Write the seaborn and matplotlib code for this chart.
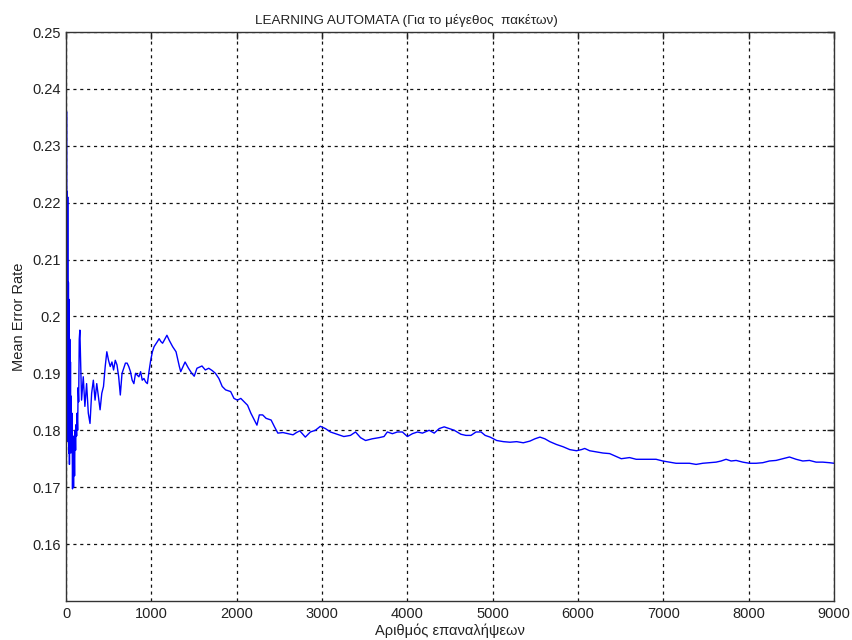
import matplotlib
matplotlib.use("Agg")
import matplotlib.pyplot as plt
import seaborn as sns
import pandas as pd

# Iteration index and running mean error rate of the learning automaton
iterations = [
    0, 2, 6, 9, 13, 16, 20, 24, 28, 32, 36, 40, 44, 48, 52, 56, 60, 65, 70, 76,
    82, 88, 94, 100, 106, 112, 118, 124, 130, 136, 142, 148, 155, 162,
    182, 202, 221, 241, 261, 281, 300, 320, 340, 360, 379, 399, 419, 439, 459,
    478, 498, 518, 538, 557, 577, 597, 617, 636, 656, 676, 696, 716, 735, 755,
    775, 795, 814, 834, 854, 874, 893, 913, 933, 953, 972, 992, 1012, 1032,
    1071, 1091, 1111, 1131, 1150, 1182, 1210, 1249, 1289, 1328,
    1344, 1395, 1435, 1474, 1502, 1534, 1593, 1632, 1672, 1712, 1751, 1791,
    1830, 1870, 1929, 1968, 2008, 2048, 2087, 2127, 2166, 2206, 2237, 2265,
    2304, 2344, 2403, 2443, 2482, 2542, 2601, 2660, 2700, 2739,
    2804, 2863, 2922, 2980, 3039, 3098, 3176, 3255, 3333, 3392, 3451, 3510,
    3588, 3667, 3726, 3765, 3824, 3882, 3941, 4000, 4059, 4118, 4176, 4255,
    4314, 4373, 4431, 4490, 4549, 4627, 4686, 4745, 4804, 4863,
    4911, 4969, 5008, 5047, 5125, 5202, 5280, 5358, 5436, 5494, 5553, 5611,
    5669, 5747, 5825, 5903, 5981, 6039, 6078, 6136, 6214, 6292, 6370, 6447,
    6506, 6603, 6681, 6798,
    6914, 6992, 7070, 7148, 7227, 7305, 7383, 7461, 7539, 7617, 7676, 7734,
    7793, 7852, 7930, 8008, 8086, 8164, 8242, 8320, 8398, 8477, 8555, 8633,
    8711, 8789, 8867, 8945, 9000,
]
error_rate = [
    0.2500, 0.1710, 0.2360, 0.1850, 0.2220, 0.1800, 0.2210, 0.1780, 0.2060,
    0.1760, 0.2030, 0.1740, 0.1960, 0.1770, 0.1920, 0.1760, 0.1860, 0.1780,
    0.1830, 0.1697, 0.1790, 0.1700, 0.1780, 0.1720, 0.1800, 0.1765, 0.1810,
    0.1790, 0.1830, 0.1800, 0.1875, 0.1850, 0.1960, 0.1976,
    0.1853, 0.1894, 0.1842, 0.1882, 0.1830, 0.1812, 0.1865, 0.1888, 0.1853,
    0.1882, 0.1859, 0.1836, 0.1865, 0.1877, 0.1912, 0.1938, 0.1923, 0.1912,
    0.1920, 0.1906, 0.1923, 0.1915, 0.1894, 0.1862, 0.1900, 0.1909, 0.1918,
    0.1918, 0.1912, 0.1903, 0.1888, 0.1882, 0.1900, 0.1897, 0.1894, 0.1903,
    0.1888, 0.1891, 0.1885, 0.1882, 0.1903, 0.1923, 0.1938, 0.1947,
    0.1956, 0.1961, 0.1956, 0.1953, 0.1958, 0.1967, 0.1958, 0.1947, 0.1938,
    0.1912,
    0.1903, 0.1920, 0.1909, 0.1900, 0.1895, 0.1909, 0.1913, 0.1906, 0.1909,
    0.1905, 0.1900, 0.1891, 0.1877, 0.1871, 0.1868, 0.1856, 0.1853, 0.1856,
    0.1850, 0.1844, 0.1830, 0.1818, 0.1809, 0.1827, 0.1827, 0.1821, 0.1818,
    0.1806, 0.1795, 0.1796, 0.1794, 0.1792, 0.1796, 0.1799,
    0.1788, 0.1797, 0.1800, 0.1807, 0.1803, 0.1797, 0.1793, 0.1789, 0.1791,
    0.1797, 0.1787, 0.1782, 0.1785, 0.1787, 0.1789, 0.1797, 0.1794, 0.1797,
    0.1797, 0.1789, 0.1794, 0.1797, 0.1795, 0.1800, 0.1795, 0.1803, 0.1806,
    0.1803, 0.1800, 0.1793, 0.1791, 0.1791, 0.1797, 0.1797,
    0.1791, 0.1788, 0.1785, 0.1782, 0.1780, 0.1779, 0.1780, 0.1778, 0.1781,
    0.1785, 0.1788, 0.1785, 0.1780, 0.1775, 0.1771, 0.1766, 0.1764, 0.1766,
    0.1768, 0.1764, 0.1762, 0.1760, 0.1759, 0.1754, 0.1750, 0.1752, 0.1749,
    0.1749,
    0.1749, 0.1746, 0.1744, 0.1742, 0.1742, 0.1742, 0.1740, 0.1742, 0.1743,
    0.1744, 0.1746, 0.1749, 0.1746, 0.1747, 0.1744, 0.1742, 0.1742, 0.1743,
    0.1746, 0.1747, 0.1750, 0.1753, 0.1749, 0.1746, 0.1747, 0.1744, 0.1744,
    0.1743, 0.1742,
]

x_ticks = [0, 1000, 2000, 3000, 4000, 5000, 6000, 7000, 8000, 9000]
y_ticks = [0.16, 0.17, 0.18, 0.19, 0.20, 0.21, 0.22, 0.23, 0.24, 0.25]
y_tick_labels = ["0.16", "0.17", "0.18", "0.19", "0.2", "0.21", "0.22",
                 "0.23", "0.24", "0.25"]

title_text = "LEARNING AUTOMATA (Για το μέγεθος  πακέτων)"
x_label = "Αριθμός επαναλήψεων"
y_label = "Mean Error Rate"

sns.set_style("white")
plt.rcParams["font.family"] = ["Liberation Sans", "DejaVu Sans"]

df = pd.DataFrame({"iteration": iterations, "error": error_rate})

fig = plt.figure(figsize=(8.52, 6.4), dpi=100)
ax = fig.add_axes([0.0775, 0.061, 0.9015, 0.889])

sns.lineplot(data=df, x="iteration", y="error", ax=ax, color="#0000ff",
             linewidth=1.0, estimator=None, sort=False)

ax.set_xlim(0, 9000)
ax.set_ylim(0.15, 0.25)
ax.set_xticks(x_ticks)
ax.set_yticks(y_ticks)
ax.set_yticklabels(y_tick_labels)

ax.grid(True, color="#111111", linestyle=(0, (2.5, 3)), linewidth=0.9)
ax.set_axisbelow(True)

for side in ["left", "right", "top", "bottom"]:
    ax.spines[side].set_visible(True)
    ax.spines[side].set_color("#333333")
    ax.spines[side].set_linewidth(1.0)

ax.tick_params(axis="both", direction="in", length=5, width=1.0,
               top=True, right=True, labelsize=10.5, colors="#222222",
               pad=4)

fig.text(0.477, 0.963, title_text, ha="center", va="baseline",
         fontsize=9.7, color="#222222")
ax.set_xlabel(x_label, fontsize=10.5, color="#222222", labelpad=2)
ax.set_ylabel(y_label, fontsize=10.5, color="#222222", labelpad=4)

fig.savefig("out.png", dpi=100, facecolor="white")
